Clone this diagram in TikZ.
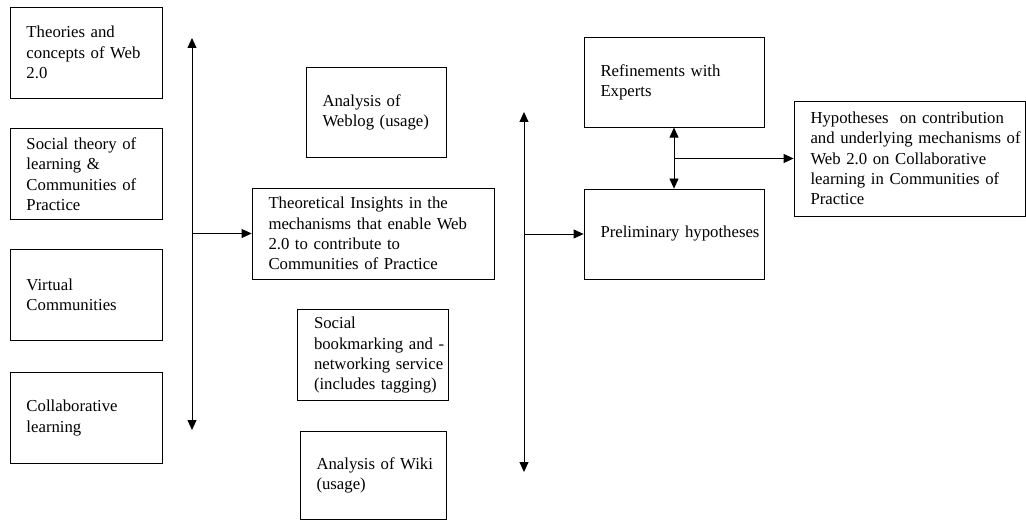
\documentclass[tikz,border=0pt]{standalone}
\usepackage{fontspec}
\setmainfont{Liberation Serif}
\usetikzlibrary{positioning,arrows.meta}

\begin{document}
\begin{tikzpicture}
  [x=1bp,y=-1bp,
   stage/.style={draw,line width=0.8bp,minimum height=91bp,inner xsep=3bp,
     inner ysep=2bp,align=left,font=\fontsize{16.8}{20.3}\selectfont,
     execute at begin node={\leftskip=13.5bp\rightskip=-20bp plus 2em\hyphenpenalty=10000}},
   link/.style={line width=0.8bp,-{Triangle[length=10bp,width=9bp]}},
   twoway/.style={line width=0.8bp,
     {Triangle[length=10bp,width=9bp]}-{Triangle[length=10bp,width=9bp]}},
   node distance=30bp]

  \useasboundingbox (0,0) rectangle (1026,521);

  % left column: sources
  \node[stage,text width=146bp] (web) at (86,52.5)
    {Theories and\\concepts of Web\\2.0};
  \node[stage,text width=146bp] (social) [below=of web]
    {Social theory of\\learning \&\\Communities of\\Practice};
  \node[stage,text width=146bp] (virtual) [below=29bp of social]
    {Virtual\\Communities};
  \node[stage,text width=146bp] (collab) [below=31bp of virtual]
    {Collaborative\\learning};

  % middle column
  \node[stage,text width=236bp] (theory) at (373,233.5)
    {Theoretical Insights in the\\mechanisms that enable Web\\2.0 to contribute to\\Communities of Practice};
  \node[stage,text width=134bp,minimum height=90bp] (weblog) [above=of theory,xshift=3bp]
    {Analysis of\\Weblog (usage)};
  \node[stage,text width=145bp] (bookmark) [below=of theory]
    {Social\\bookmarking and -\\networking service\\(includes tagging)};
  \node[stage,text width=140bp,minimum height=88bp] (wiki) [below=of bookmark]
    {Analysis of Wiki\\(usage)};

  % right column
  \node[stage,text width=174bp,minimum height=90bp] (prelim) at (674,234)
    {Preliminary hypotheses};
  \node[stage,text width=174bp,minimum height=90bp] (refine) [above=61bp of prelim]
    {Refinements with\\Experts};
  \node[stage,text width=225bp,minimum height=115bp] (hypo) at (909.5,158.5)
    {Hypotheses~ on contribution\\and underlying mechanisms of\\Web 2.0 on Collaborative\\learning in Communities of\\Practice};

  % free ends of the long arrows
  \coordinate (lTop) at (192,38);
  \coordinate (lBot) at (192,430);
  \coordinate (rTop) at (524,112);
  \coordinate (rBot) at (524,472);

  \draw[twoway] (lTop) -- (lBot);
  \draw[link] (lTop |- theory.west) -- (theory.west);

  \draw[twoway] (rTop) -- (rBot);
  \draw[link] (rTop |- prelim.west) -- (prelim.west);

  \draw[twoway] (refine.south) -- (prelim.north);
  \draw[link] (refine.south |- hypo.west) -- (hypo.west);

\end{tikzpicture}
\end{document}
